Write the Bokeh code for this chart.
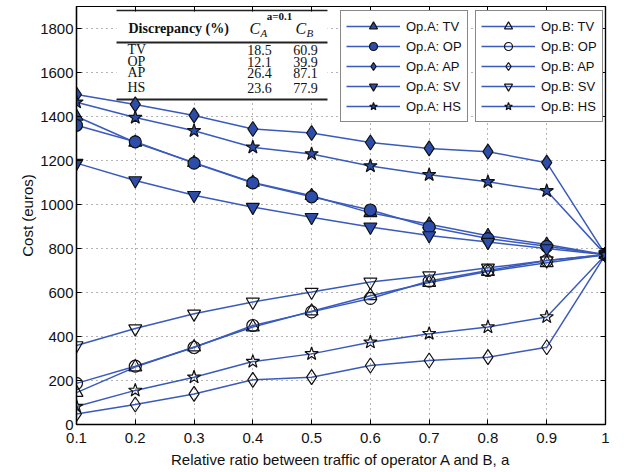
from bokeh.plotting import figure
from bokeh.models import (Range1d, FixedTicker, LinearAxis, Legend, LegendItem,
                          BoxAnnotation, Label, CustomJSTickFormatter)
from bokeh.embed import file_html
from bokeh.resources import INLINE

# ---------------- data ----------------
ratio = [0.1, 0.2, 0.3, 0.4, 0.5, 0.6, 0.7, 0.8, 0.9, 1.0]

opA_TV = [1400, 1282, 1190, 1100, 1040, 962, 910, 858, 818, 772]
opA_OP = [1360, 1285, 1188, 1098, 1035, 975, 898, 845, 810, 772]
opA_AP = [1500, 1455, 1405, 1343, 1325, 1282, 1255, 1240, 1190, 772]
opA_SV = [1188, 1109, 1042, 988, 942, 898, 859, 829, 800, 772]
opA_HS = [1465, 1395, 1335, 1260, 1230, 1175, 1135, 1103, 1062, 772]

opB_TV = [145, 261, 352, 443, 515, 585, 645, 695, 735, 772]
opB_OP = [187, 265, 350, 450, 512, 573, 652, 700, 745, 772]
opB_AP = [48, 91, 139, 203, 215, 268, 291, 306, 351, 772]
opB_SV = [359, 436, 503, 557, 602, 648, 677, 712, 745, 772]
opB_HS = [82, 155, 215, 286, 321, 374, 413, 443, 489, 772]

x_ticks = [0.1, 0.2, 0.3, 0.4, 0.5, 0.6, 0.7, 0.8, 0.9, 1.0]
y_ticks = [0, 200, 400, 600, 800, 1000, 1200, 1400, 1600, 1800]

tab_rows = ["TV", "OP", "AP", "HS"]
tab_CA = ["18.5", "12.1", "26.4", "23.6"]
tab_CB = ["60.9", "39.9", "87.1", "77.9"]

# ---------------- styles ----------------
LINE = "#3a5bbd"
FILL = "#2d4dab"
FONT = "Liberation Sans"
SERIF = "Liberation Serif"

p = figure(width=624, height=472, output_backend="svg", toolbar_location=None,
           x_range=Range1d(0.1, 1.0), y_range=Range1d(0, 1900),
           min_border_left=76, min_border_right=19, min_border_top=6,
           min_border_bottom=48)
p.background_fill_color = "white"
p.border_fill_color = "white"
p.outline_line_color = "black"
p.outline_line_width = 1.2

# axes
p.xaxis.ticker = FixedTicker(ticks=x_ticks)
p.yaxis.ticker = FixedTicker(ticks=y_ticks)
p.xaxis.major_label_overrides = {1.0: "1"}
p.xaxis.axis_label = "Relative ratio between traffic of operator A and B, a"
p.yaxis.axis_label = "Cost (euros)"
for ax in [p.xaxis[0], p.yaxis[0]]:
    ax.axis_line_color = "black"
    ax.axis_line_width = 1.4
    ax.major_tick_in = 5
    ax.major_tick_out = 0
    ax.minor_tick_line_color = None
    ax.major_label_text_font = FONT
    ax.major_label_text_font_size = "15px"
    ax.major_label_text_color = "#111111"
    ax.axis_label_text_font = FONT
    ax.axis_label_text_font_size = "15px"
    ax.axis_label_text_font_style = "normal"
    ax.axis_label_text_color = "#111111"
p.xaxis.major_label_standoff = 8
p.xaxis.axis_label_standoff = 5
p.yaxis.major_label_standoff = 3
p.yaxis.axis_label_standoff = 1

for side, tk in (("above", x_ticks), ("right", y_ticks)):
    ax = LinearAxis(ticker=FixedTicker(ticks=tk),
                    formatter=CustomJSTickFormatter(code="return ''"))
    ax.major_label_standoff = 0
    ax.major_tick_in = 5
    ax.major_tick_out = 0
    ax.minor_tick_line_color = None
    ax.axis_line_color = "black"
    ax.axis_line_width = 1.2
    p.add_layout(ax, side)

p.grid.grid_line_color = "#444444"
p.grid.grid_line_dash = "1 4"
p.grid.grid_line_width = 1
p.grid.grid_line_alpha = 0.8

# ---------------- table (inset) ----------------
def px_x(px):
    return 0.1 + (px - 76) / 587.8

def px_y(py):
    return (424 - py) * 1900.0 / 418.0

p.add_layout(BoxAnnotation(left=px_x(116), right=px_x(327), bottom=px_y(100),
                           top=px_y(7), fill_color="white", fill_alpha=1,
                           line_alpha=0, level="underlay"))
for yy, th in ((10, 1.6), (42, 2.0), (99, 1.8)):
    p.add_layout(BoxAnnotation(left=px_x(116), right=px_x(327),
                               bottom=px_y(yy + th / 2), top=px_y(yy - th / 2),
                               fill_color="#222222", fill_alpha=1, line_alpha=0,
                               level="underlay"))

def lab(x, y, t, size="14px", style="normal", align="left", font=SERIF):
    p.add_layout(Label(x=x, y=y, text=t, text_font=font, text_font_size=size,
                       text_font_style=style, text_align=align,
                       text_baseline="middle", text_color="#111111"))

lab(px_x(279), px_y(15), "a=0.1", size="11px", style="bold", align="center")
lab(px_x(128), px_y(28), "Discrepancy (%)", size="14px", style="bold")
lab(px_x(249), px_y(28), "C", size="16px", style="italic")
lab(px_x(260), px_y(32), "A", size="11px", style="italic")
lab(px_x(295), px_y(28), "C", size="16px", style="italic")
lab(px_x(306), px_y(32), "B", size="11px", style="italic")
row_y = [49, 61, 72, 87]
for name, ca, cb, ry in zip(tab_rows, tab_CA, tab_CB, row_y):
    lab(px_x(127), px_y(ry), name, size="14px")
    lab(px_x(259), px_y(ry), ca, size="14px", align="center")
    lab(px_x(305), px_y(ry), cb, size="14px", align="center")

# ---------------- series ----------------
series_A = [("Op.A: TV", opA_TV, "triangle", 13),
            ("Op.A: OP", opA_OP, "circle", 12),
            ("Op.A: AP", opA_AP, "diamond", 15),
            ("Op.A: SV", opA_SV, "inverted_triangle", 13),
            ("Op.A: HS", opA_HS, "star", 14)]
series_B = [("Op.B: TV", opB_TV, "triangle", 13),
            ("Op.B: OP", opB_OP, "circle", 12),
            ("Op.B: AP", opB_AP, "diamond", 15),
            ("Op.B: SV", opB_SV, "inverted_triangle", 13),
            ("Op.B: HS", opB_HS, "star", 14)]

items_A, items_B = [], []
for name, vals, mk, sz in series_A:
    lr = p.line(ratio, vals, line_color=LINE, line_width=1.5)
    sr = p.scatter(ratio, vals, marker=mk, size=sz, fill_color=FILL,
                   line_color="#111111", line_width=1.2)
    items_A.append(LegendItem(label=name, renderers=[lr, sr]))
for name, vals, mk, sz in series_B:
    lr = p.line(ratio, vals, line_color=LINE, line_width=1.5)
    sr = p.scatter(ratio, vals, marker=mk, size=sz, fill_color=None,
                   line_color="#111111", line_width=1.2)
    items_B.append(LegendItem(label=name, renderers=[lr, sr]))

for items, loc in ((items_A, (264, 302)), (items_B, (399, 302))):
    lg = Legend(items=items, location=loc, orientation="vertical")
    lg.glyph_width = 54
    lg.glyph_height = 20
    lg.label_height = 20
    lg.spacing = 0
    lg.padding = 5
    lg.margin = 0
    lg.label_standoff = 6
    lg.label_text_font = FONT
    lg.label_text_font_size = "13px"
    lg.label_text_color = "#111111"
    lg.border_line_color = "#111111"
    lg.border_line_width = 1.5
    lg.background_fill_color = "white"
    lg.background_fill_alpha = 1
    p.add_layout(lg)

open("out.html", "w").write(file_html(p, INLINE))
